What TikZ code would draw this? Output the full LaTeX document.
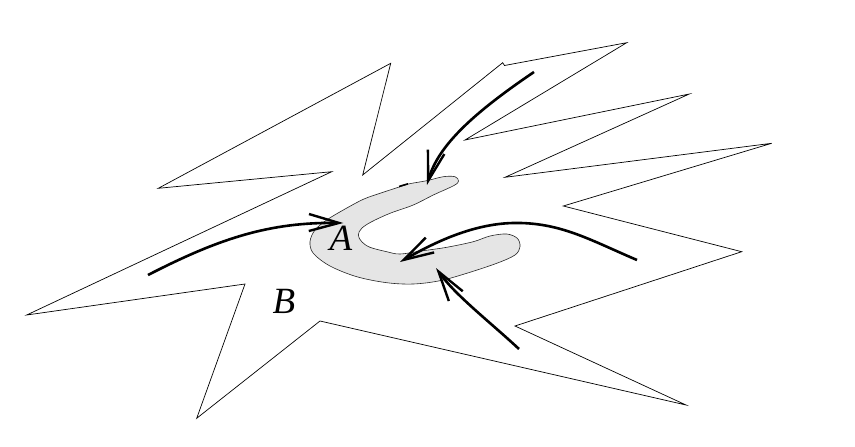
\documentclass[tikz,border=0pt]{standalone}
\usepackage{fontspec}
\setmainfont{Liberation Serif}
\usetikzlibrary{arrows.meta}
\tikzset{
  outline/.style={line width=0.7pt, line join=miter},
  region/.style={line width=0.6pt, fill=black!10, draw=black!85},
  flow/.style={line width=2.6pt, -{Straight Barb[length=30pt,width=17pt,line width=2.4pt]}},
  lbl/.style={font=\fontsize{37}{40}\selectfont\itshape, inner sep=0pt}
}
\begin{document}
\begin{tikzpicture}[x=1pt,y=-1pt]
\useasboundingbox (0,0) rectangle (855,447);
% outer jagged region B
\draw[outline] (26.7,315) -- (331.7,171.7) -- (158.3,188.3) -- (390.7,63.3) -- (362.7,175)
  -- (502.7,62.7) -- (504.5,65.5) -- (626.7,42.7) -- (465,140) -- (689.3,94) -- (505,177.3)
  -- (771.7,143.3) -- (563.3,206) -- (741.7,251.7) -- (515,326) -- (686,405) -- (320,321)
  -- (196.7,418.3) -- (245,284) -- cycle;
% shaded region A
\draw[region] plot[smooth cycle, tension=0.55] coordinates {
  (343.3,210) (363.3,199.3) (380,193.3) (398.3,187.3) (408.3,184) (426.7,180.7) (443.3,176.7)
  (455,176.7) (458.5,181) (454,185.5) (433.3,195) (413.3,205) (390,213.3) (371.7,221.7)
  (361.7,228.3) (358.3,235) (361.7,241.7) (370,247.3) (386.7,251.7) (400,254) (423.3,250.7)
  (446.7,247.3) (473.3,241.7) (490,236) (506.7,234) (517.3,238.3) (520,246.7) (515,255)
  (496.7,263.3) (466.7,273.3) (440,280.7) (413.3,284) (386.7,282.7) (356.7,276.7) (330,266)
  (313.3,253.3) (310,241.7) (315,230) (326.7,220) };
\draw[line width=1.6pt] (399,186.5) -- (408,183.8);
% labels
\node[lbl] (A) at (341,238) {A};
\node[lbl] (B) at (284,301) {B};
% flow arrows
\coordinate (s1) at (148,275); \coordinate (t1) at (343.3,223);
\coordinate (s2) at (534,72);  \coordinate (t2) at (427,185);
\coordinate (s3) at (637,260); \coordinate (m3) at (513,223); \coordinate (t3) at (400,262);
\coordinate (s4) at (519,349); \coordinate (t4) at (436,268);
\draw[flow] (s1) .. controls (220,238) and (270,222) .. (t1);
\draw[flow] (s2) .. controls (475,112) and (438,145) .. (t2);
\draw[flow] (s3) .. controls (590,240) and (560,222) .. (m3) .. controls (470,224) and (430,245) .. (t3);
\draw[flow] (s4) .. controls (490,322) and (455,295) .. (t4);
\end{tikzpicture}
\end{document}
